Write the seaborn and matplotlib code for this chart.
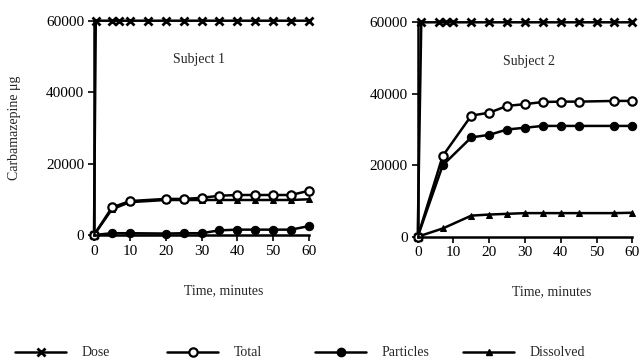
import numpy as np
import pandas as pd
import matplotlib
matplotlib.use("Agg")
import matplotlib.pyplot as plt
from matplotlib.lines import Line2D
import seaborn as sns

# ---- data ----
dose_t1 = [0, 0.5, 5, 7, 10, 15, 20, 25, 30, 35, 40, 45, 50, 55, 60]
dose_v1 = [0, 60000, 60000, 60000, 60000, 60000, 60000, 60000, 60000, 60000, 60000, 60000, 60000, 60000, 60000]
t1 = [0, 5, 10, 20, 25, 30, 35, 40, 45, 50, 55, 60]
total1 = [0, 7700, 9500, 10100, 10100, 10400, 11000, 11200, 11200, 11200, 11200, 12400]
particles1 = [0, 500, 500, 400, 500, 500, 1300, 1500, 1500, 1500, 1500, 2500]
dissolved1 = [0, 7200, 9200, 9800, 9800, 9800, 9800, 9800, 9800, 9800, 9800, 10000]

dose_t2 = [0, 1, 6, 8, 10, 15, 20, 25, 30, 35, 40, 45, 50, 55, 60]
dose_v2 = [0, 60000, 60000, 60000, 60000, 60000, 60000, 60000, 60000, 60000, 60000, 60000, 60000, 60000, 60000]
t2 = [0, 7, 15, 20, 25, 30, 35, 40, 45, 55, 60]
total2 = [0, 22600, 33900, 34700, 36600, 37100, 37700, 37800, 37800, 38000, 38000]
particles2 = [0, 20000, 27800, 28500, 30000, 30500, 31000, 31000, 31000, 31000, 31000]
dissolved2 = [0, 2300, 5900, 6200, 6400, 6600, 6600, 6600, 6600, 6600, 6700]

subjects = ["Subject 1", "Subject 2"]
series_names = ["Dose", "Total", "Particles", "Dissolved"]
y_ticks = [0, 20000, 40000, 60000]
x_ticks = [0, 10, 20, 30, 40, 50, 60]

sns.set_theme(style="ticks")
plt.rcParams["font.family"] = ["Liberation Serif", "DejaVu Serif"]

fig = plt.figure(figsize=(6.4, 3.64), dpi=100)
ax1 = fig.add_axes([94/640, 129/364, 215/640, 214.3/364])
ax2 = fig.add_axes([417.7/640, 127.3/364, 214.6/640, 214.4/364])

styles = {
    "Dose": dict(marker="x", markersize=6, markeredgewidth=2, markeredgecolor="black",
                 color="black", linewidth=1.8),
    "Total": dict(marker="o", markersize=6, markerfacecolor="white", markeredgecolor="black",
                  markeredgewidth=1.6, color="black", linewidth=1.8),
    "Particles": dict(marker="o", markersize=6, markerfacecolor="black", markeredgecolor="black",
                      color="black", linewidth=1.8),
    "Dissolved": dict(marker="^", markersize=4.5, markerfacecolor="black", markeredgecolor="black",
                      color="black", linewidth=1.8),
}

def draw(ax, dt, dv, t, tot, par, dis, title, lx, ly, tx):
    for name, xs, ys in [("Dose", dt, dv), ("Dissolved", t, dis), ("Particles", t, par), ("Total", t, tot)]:
        st = dict(styles[name])
        sns.lineplot(x=xs, y=ys, ax=ax, estimator=None, sort=False, clip_on=False, **st)
    ax.set_xlim(0, 60)
    ax.set_ylim(0, 60000)
    ax.set_xticks(x_ticks)
    ax.set_yticks(y_ticks)
    ax.set_yticklabels([str(v) for v in y_ticks])
    sns.despine(ax=ax)
    for s in ["left", "bottom"]:
        ax.spines[s].set_linewidth(1.8)
        ax.spines[s].set_color("black")
    ax.tick_params(axis="both", labelsize=11, colors="black", width=1.2, length=4, pad=3)
    ax.set_xlabel("Time, minutes", fontsize=10)
    ax.xaxis.set_label_coords(lx, ly)
    ax.set_ylabel("")
    ax.text(tx, 49000, title, ha="center", va="center", fontsize=10)
    ax.set_facecolor("white")

draw(ax1, dose_t1, dose_v1, t1, total1, particles1, dissolved1, subjects[0], 0.605, -0.23, 29.3)
draw(ax2, dose_t2, dose_v2, t2, total2, particles2, dissolved2, subjects[1], 0.624, -0.225, 31.1)
ax1.set_ylabel("Carbamazepine \u03bcg", fontsize=10)
ax1.yaxis.set_label_coords(-0.34, 0.5)

# legend: separate items at fixed positions
positions = [15, 167, 315, 463]
for name, px in zip(series_names, positions):
    h = Line2D([], [], **styles[name])
    fig.legend(handles=[h], labels=[name], loc="center left",
               bbox_to_anchor=(px/640, 1 - 353/364), frameon=False,
               fontsize=10, handlelength=3.7, handletextpad=1.1,
               borderpad=0, borderaxespad=0)

fig.savefig("out.png", dpi=100, facecolor="white")
